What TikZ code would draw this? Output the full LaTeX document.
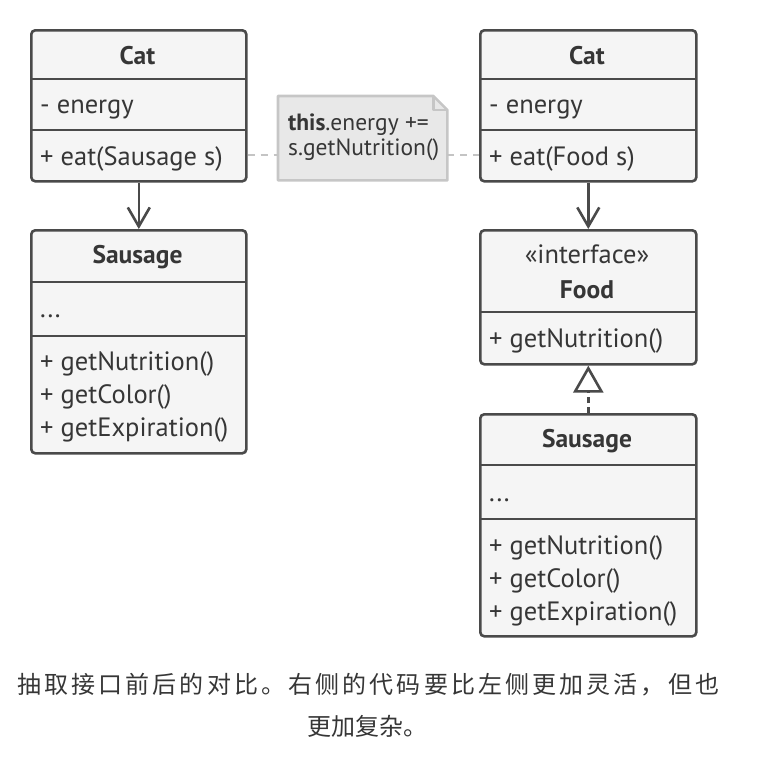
\documentclass[tikz,border=0pt]{standalone}
\usepackage{fontspec}
\setmainfont{PT Sans}
\newfontfamily\cjk{Noto Sans CJK SC}
\usetikzlibrary{arrows.meta}
\definecolor{boxfill}{HTML}{F5F5F5}
\definecolor{boxline}{HTML}{4A4A4A}
\definecolor{txtcol}{HTML}{363636}
\definecolor{notefill}{HTML}{E8E8E8}
\definecolor{noteline}{HTML}{C6C6C6}
\definecolor{dashcol}{HTML}{C4C4C4}
\tikzset{
  umlbox/.style={draw=boxline, fill=boxfill, line width=2.6pt, rounded corners=4pt, anchor=north west, inner sep=0pt},
  divider/.style={draw=boxline, line width=2.6pt},
  txt/.style={inner sep=0pt, text=txtcol, font=\fontsize{26.5}{30}\selectfont},
  ttl/.style={inner sep=0pt, text=txtcol, font=\fontsize{25.5}{30}\selectfont\bfseries},
  notetxt/.style={inner sep=0pt, text=txtcol, font=\fontsize{23.5}{26}\selectfont, anchor=base west},
  assoc/.style={draw=boxline, line width=2.6pt, -{Straight Barb[length=19pt,width=22pt,line width=2.6pt]}},
  realize/.style={draw=boxline, line width=2.6pt, dash pattern=on 6pt off 4pt, -{Triangle[open,length=27pt,width=30pt,line width=2.6pt,fill=white]}},
  notelink/.style={draw=dashcol, line width=2.6pt, dash pattern=on 7pt off 6pt},
  caption/.style={inner sep=0pt, text=txtcol, font=\cjk\fontsize{24}{30}\selectfont, anchor=base},
}
\begin{document}
\begin{tikzpicture}[x=1pt,y=-1pt]
\useasboundingbox (0,0) rectangle (776,764);

% ---------- left Cat ----------
\node[umlbox, minimum width=215pt, minimum height=151pt] (catL) at (30,29) {};
\draw[divider] (30,79) -- (245,79);
\draw[divider] (30,130) -- (245,130);
\node[ttl, anchor=base] (catLt) at (137.5,64) {Cat};
\node[txt, anchor=base west] (catLa) at (40,113) {- energy};
\node[txt, anchor=base west] (catLm) at (40,165) {+ eat(Sausage s)};

% ---------- left Sausage ----------
\node[umlbox, minimum width=215pt, minimum height=223pt] (sauL) at (30,229) {};
\draw[divider] (30,282) -- (245,282);
\draw[divider] (30,336) -- (245,336);
\node[ttl, anchor=base] (sauLt) at (137.5,263) {Sausage};
\node[txt, anchor=base west] (sauLa) at (40,317) {...};
\node[txt, anchor=base west] (sauLm1) at (40,370) {+ getNutrition()};
\node[txt, anchor=base west] (sauLm2) at (40,403) {+ getColor()};
\node[txt, anchor=base west] (sauLm3) at (40,436) {+ getExpiration()};

% ---------- right Cat ----------
\node[umlbox, minimum width=216pt, minimum height=151pt] (catR) at (479,29) {};
\draw[divider] (479,79) -- (695,79);
\draw[divider] (479,130) -- (695,130);
\node[ttl, anchor=base] (catRt) at (587,64) {Cat};
\node[txt, anchor=base west] (catRa) at (489,113) {- energy};
\node[txt, anchor=base west] (catRm) at (489,165) {+ eat(Food s)};

% ---------- Food interface ----------
\node[umlbox, minimum width=216pt, minimum height=134pt] (food) at (479,229) {};
\draw[divider] (479,312) -- (695,312);
\node[txt, anchor=base] (foodst) at (587,263) {«interface»};
\node[ttl, anchor=base] (foodt) at (587,298) {Food};
\node[txt, anchor=base west] (foodm) at (489,347) {+ getNutrition()};

% ---------- right Sausage ----------
\node[umlbox, minimum width=216pt, minimum height=222pt] (sauR) at (479,413) {};
\draw[divider] (479,465) -- (695,465);
\draw[divider] (479,519) -- (695,519);
\node[ttl, anchor=base] (sauRt) at (587,447) {Sausage};
\node[txt, anchor=base west] (sauRa) at (489,501) {...};
\node[txt, anchor=base west] (sauRm1) at (489,554) {+ getNutrition()};
\node[txt, anchor=base west] (sauRm2) at (489,587) {+ getColor()};
\node[txt, anchor=base west] (sauRm3) at (489,620) {+ getExpiration()};

% ---------- note ----------
\node[inner sep=0pt, minimum width=169pt, minimum height=84pt, anchor=north west] (note) at (278,96) {};
\draw[draw=noteline, fill=notefill, line width=2.6pt, line join=round]
  (note.north west) -- ([xshift=-14pt]note.north east) -- ([yshift=-14pt]note.north east)
  -- (note.south east) -- (note.south west) -- cycle;
\draw[draw=noteline, line width=2.2pt, line join=round]
  ([xshift=-14pt]note.north east) -- ([xshift=-14pt,yshift=-14pt]note.north east) -- ([yshift=-14pt]note.north east);
\node[notetxt] (note1) at (288,130) {\textbf{this}.energy +=};
\node[notetxt] (note2) at (288,155) {s.getNutrition()};

% ---------- connectors ----------
\draw[notelink] (catL.east |- 0,155) -- (note.west |- 0,155);
\draw[notelink] (note.east |- 0,155) -- (catR.west |- 0,155);
\draw[assoc] (catL.south) -- (sauL.north);
\draw[assoc] (catR.south) -- (food.north);
\draw[realize] (sauR.north) -- (food.south);

% ---------- caption ----------
\node[caption, anchor=base west] (cap1) at (17,693) {\makebox[702pt][s]{抽\hfill 取\hfill 接\hfill 口\hfill 前\hfill 后\hfill 的\hfill 对\hfill 比\hfill 。\hfill 右\hfill 侧\hfill 的\hfill 代\hfill 码\hfill 要\hfill 比\hfill 左\hfill 侧\hfill 更\hfill 加\hfill 灵\hfill 活\hfill ，\hfill 但\hfill 也}};
\node[caption] (cap2) at (367,735) {更加复杂。};
\end{tikzpicture}
\end{document}
